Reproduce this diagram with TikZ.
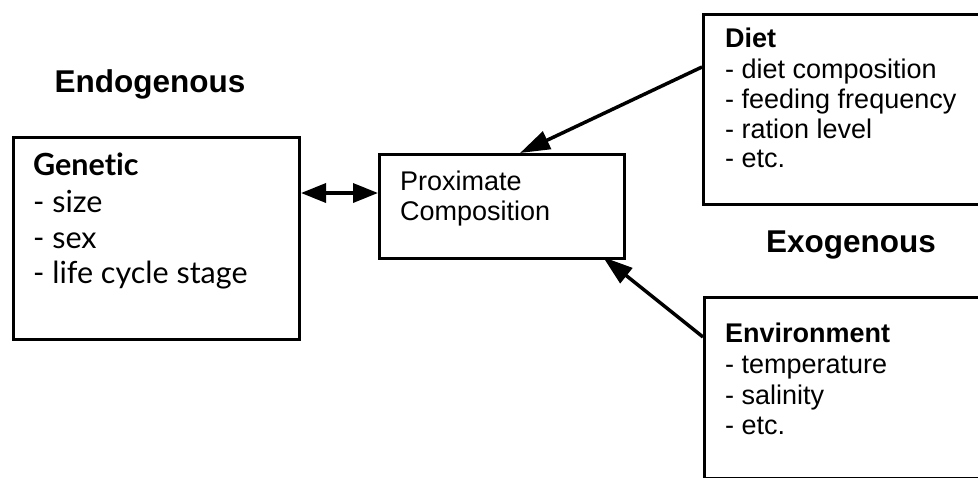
\documentclass[tikz,border=0pt]{standalone}
\usepackage{fontspec}
\setmainfont{Liberation Sans}
\newfontfamily\gfont[Ligatures=NoCommon]{Lato}
\usetikzlibrary{arrows.meta}
\tikzset{
  box/.style={draw, line width=3pt, rectangle, inner sep=0pt, anchor=north west},
  ln/.style={anchor=base west, inner sep=0pt, font=\fontsize{27}{31}\selectfont},
  lnh/.style={ln, font=\fontsize{27}{31}\selectfont\bfseries},
  gln/.style={anchor=base west, inner sep=0pt, font=\gfont\fontsize{30.5}{36}\selectfont},
  glnh/.style={gln, font=\gfont\fontsize{30.5}{36}\selectfont\bfseries},
  title/.style={anchor=base, inner sep=0pt, font=\fontsize{31.5}{36}\selectfont\bfseries},
  conn/.style={line width=3.5pt, -{Triangle[length=30pt,width=19pt]}},
  dconn/.style={line width=3.5pt, {Triangle[length=25pt,width=19pt]}-{Triangle[length=25pt,width=19pt]}}
}
\begin{document}
\begin{tikzpicture}[x=1pt,y=-1pt]
\useasboundingbox (0,0) rectangle (978,477);
\clip (0,0) rectangle (978,477);
% boxes
\node[box, minimum width=286pt, minimum height=202pt] (gen) at (12,136) {};
\node[box, minimum width=245pt, minimum height=104pt] (prox) at (378,153) {};
\node[box, minimum width=320pt, minimum height=190pt] (diet) at (702,13) {};
\node[box, minimum width=320pt, minimum height=181pt] (env) at (703,296) {};
% titles
\node[title] (endo) at (150,92) {Endogenous};
\node[title] (exo) at (851,252) {Exogenous};
% genetic text
\node[glnh] (g1) at (33,175) {Genetic};
\node[gln] (g2) at (33,212) {- size};
\node[gln] (g3) at (33,248) {- sex};
\node[gln] (g4) at (33,283) {- life cycle stage};
% proximate text
\node[ln] (p1) at (400,190) {Proximate};
\node[ln] (p2) at (400,220) {Composition};
% diet text
\node[lnh] (d1) at (725,47) {Diet};
\node[ln] (d2) at (725,78) {- diet composition};
\node[ln] (d3) at (725,108) {- feeding frequency};
\node[ln] (d4) at (725,138) {- ration level};
\node[ln] (d5) at (725,167) {- etc.};
% environment text
\node[lnh] (e1) at (725,342) {Environment};
\node[ln] (e2) at (725,373) {- temperature};
\node[ln] (e3) at (725,404) {- salinity};
\node[ln] (e4) at (725,434) {- etc.};
% connectors
\coordinate (gR) at (gen.east |- 0,193);
\coordinate (pL) at (prox.west |- 0,193);
\draw[dconn] (gR) -- (pL);
\coordinate (dS) at (diet.west |- 0,67);
\coordinate (pT) at (520,153);
\draw[conn] (dS) -- (pT);
\coordinate (eS) at (env.west |- 0,337);
\coordinate (pB) at (603,257);
\draw[conn] (eS) -- (pB);
\end{tikzpicture}
\end{document}
